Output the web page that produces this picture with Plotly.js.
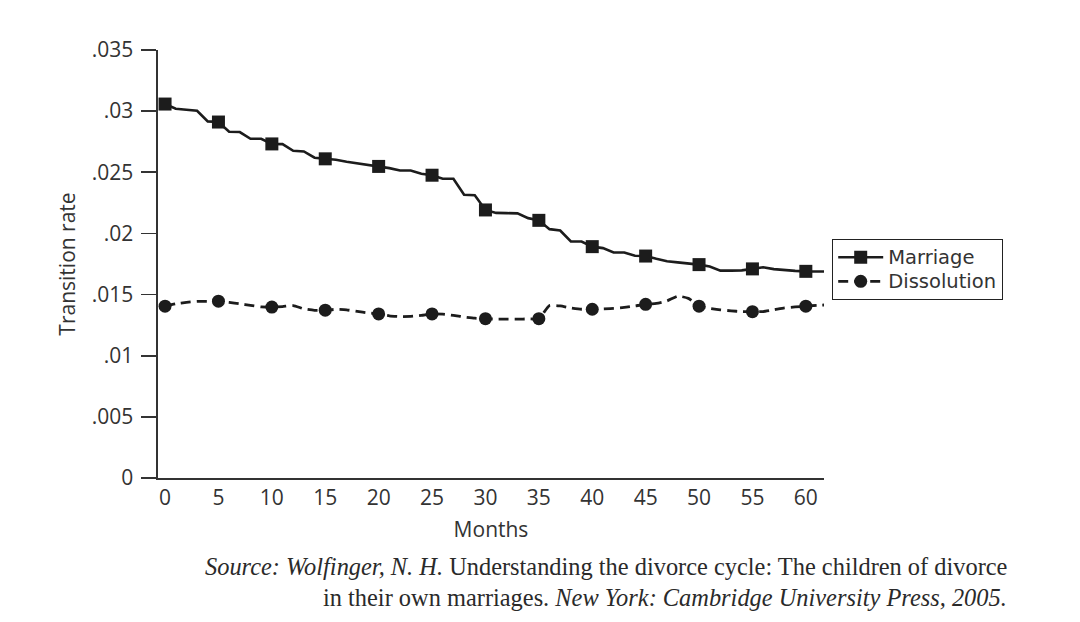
<!DOCTYPE html>
<html>
<head>
<meta charset="utf-8">
<script src="https://cdn.plot.ly/plotly-3.0.1.min.js"></script>
<style>
  html, body { margin: 0; padding: 0; background: #ffffff; }
  #chart { width: 1080px; height: 622px; }
</style>
</head>
<body>
<div id="chart"></div>
<script>
// ---- data ----
const months = [0,1,2,3,4,5,6,7,8,9,10,11,12,13,14,15,16,17,18,19,20,21,22,23,24,25,26,27,28,29,30,
  31,32,33,34,35,36,37,38,39,40,41,42,43,44,45,46,47,48,49,50,51,52,53,54,55,56,57,58,59,60,61,62];

const marriageRate = [
  0.03058,0.03020,0.03011,0.03003,0.02916,0.02911,0.02831,0.02829,0.02774,0.02774,
  0.02732,0.02730,0.02676,0.02670,0.02619,0.02610,0.02602,0.02586,0.02573,0.02561,
  0.02548,0.02534,0.02515,0.02515,0.02488,0.02476,0.02447,0.02447,0.02316,0.02312,
  0.02192,0.02168,0.02166,0.02164,0.02125,0.02107,0.02035,0.02024,0.01934,0.01934,
  0.01892,0.01880,0.01844,0.01844,0.01817,0.01815,0.01792,0.01772,0.01763,0.01755,
  0.01745,0.01729,0.01696,0.01696,0.01698,0.01710,0.01723,0.01708,0.01698,0.01694,
  0.01690,0.01688,0.01688
];

const dissolutionRate = [
  0.01405,0.01424,0.01436,0.01444,0.01444,0.01446,0.01436,0.01424,0.01412,0.01399,
  0.01398,0.01402,0.01410,0.01383,0.01371,0.01372,0.01379,0.01375,0.01362,0.01350,
  0.01342,0.01326,0.01320,0.01322,0.01330,0.01342,0.01340,0.01330,0.01317,0.01307,
  0.01303,0.01299,0.01299,0.01299,0.01301,0.01303,0.01410,0.01407,0.01391,0.01380,
  0.01380,0.01383,0.01387,0.01395,0.01407,0.01420,0.01428,0.01448,0.01487,0.01469,
  0.01405,0.01387,0.01375,0.01367,0.01361,0.01360,0.01361,0.01375,0.01391,0.01399,
  0.01405,0.01412,0.01416
];

const markerEvery = 5;
const xTickVals = [0,5,10,15,20,25,30,35,40,45,50,55,60];
const xTickText = ['0','5','10','15','20','25','30','35','40','45','50','55','60'];
const yTickVals = [0,0.005,0.01,0.015,0.02,0.025,0.03,0.035];
const yTickText = ['0','.005','.01','.015','.02','.025','.03','.035'];

const seriesNames = ['Marriage','Dissolution'];
const xTitle = 'Months';
const yTitle = 'Transition rate';
const sourceLine1 = '<i>Source: Wolfinger, N. H.</i> Understanding the divorce cycle: The children of divorce';
const sourceLine2 = 'in their own marriages. <i>New York: Cambridge University Press, 2005.</i>';

// ---- drawing ----
const ink = '#1c1c1c';
const textCol = '#333333';
const markerColors = months.map(m => (m % markerEvery === 0 && m <= 60) ? ink : 'rgba(0,0,0,0)');
const legendLabel = s => '<span style="font-size:19.5px">' + s + '</span>';

const traces = [
  {
    x: months, y: marriageRate, name: legendLabel(seriesNames[0]), type: 'scatter', mode: 'lines+markers',
    line: {color: ink, width: 2.6, shape: 'linear'},
    marker: {symbol: 'square', size: 13, color: markerColors, line: {width: 0}},
    hoverinfo: 'skip'
  },
  {
    x: months, y: dissolutionRate, name: legendLabel(seriesNames[1]), type: 'scatter', mode: 'lines+markers',
    line: {color: ink, width: 2.8, dash: '10px,6px', shape: 'spline', smoothing: 0.5},
    marker: {symbol: 'circle', size: 13, color: markerColors, line: {width: 0}},
    hoverinfo: 'skip'
  }
];

const plotL = 158, plotR = 824, plotT = 50, plotB = 478;
const plotW = plotR - plotL, plotH = plotB - plotT;
const px2x = px => (px - plotL) / plotW;
const px2y = py => (plotB - py) / plotH;

const layout = {
  width: 1080, height: 622,
  margin: {l: plotL, r: 1080 - plotR, t: plotT, b: 622 - plotB, pad: 0},
  paper_bgcolor: '#ffffff', plot_bgcolor: '#ffffff',
  font: {family: 'Open Sans, sans-serif', color: textCol, size: 20},
  showlegend: true,
  legend: {
    x: px2x(832), y: px2y(239), xanchor: 'left', yanchor: 'top',
    bgcolor: '#ffffff', bordercolor: '#222222', borderwidth: 1.2,
    font: {family: 'DejaVu Sans, sans-serif', size: 16.2, color: textCol},
    itemwidth: 45, tracegroupgap: 0
  },
  xaxis: {
    range: [-0.66, 61.7], tickmode: 'array', tickvals: xTickVals, ticktext: xTickText,
    showline: true, linecolor: '#333333', linewidth: 1.6, ticks: '', showgrid: false, zeroline: false,
    tickfont: {size: 21, color: textCol}, ticklabelstandoff: 0,
    title: {text: xTitle, font: {size: 21, color: textCol}, standoff: 12}
  },
  yaxis: {
    range: [0, 0.035], tickmode: 'array', tickvals: yTickVals, ticktext: yTickText,
    showline: true, linecolor: '#333333', linewidth: 1.6, ticks: 'outside', ticklen: 15,
    tickwidth: 1.6, tickcolor: '#333333', showgrid: false, zeroline: false,
    tickfont: {size: 21, color: textCol}, ticklabelstandoff: 4,
    title: {text: yTitle, font: {size: 21, color: textCol}, standoff: 10}
  },
  annotations: [
    {text: sourceLine1, xref: 'paper', yref: 'paper', x: px2x(1009), y: px2y(566),
     xanchor: 'right', yanchor: 'middle', showarrow: false, align: 'right',
     font: {family: 'Liberation Serif, serif', size: 24.4, color: '#2a2a2a'}},
    {text: sourceLine2, xref: 'paper', yref: 'paper', x: px2x(1009), y: px2y(597),
     xanchor: 'right', yanchor: 'middle', showarrow: false, align: 'right',
     font: {family: 'Liberation Serif, serif', size: 24.4, color: '#2a2a2a'}}
  ]
};

Plotly.newPlot('chart', traces, layout, {displayModeBar: false, staticPlot: true});
</script>
</body>
</html>
